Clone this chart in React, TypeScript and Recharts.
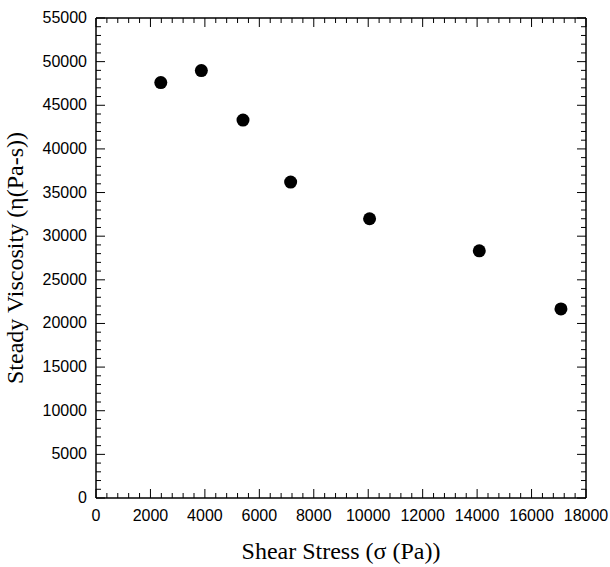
import { ScatterChart, Scatter, XAxis, YAxis } from 'recharts';

// shear stress (Pa) and steady viscosity (Pa-s)
const stress = [2380, 3870, 5400, 7150, 10050, 14080, 17080];
const viscosity = [47600, 48980, 43300, 36200, 32000, 28320, 21670];

const xTicks = Array.from({ length: 46 }, (_, i) => i * 400);
const yTicks = Array.from({ length: 56 }, (_, i) => i * 1000);
const xLabelStep = 2000;
const yLabelStep = 5000;

const data = stress.map((s, i) => ({ stress: s, viscosity: viscosity[i] }));

const tickFont = { fontFamily: '"Liberation Sans", Arial, sans-serif', fontSize: 16, fill: '#000' };
const titleFont = { fontFamily: '"Liberation Serif", "Times New Roman", serif', fontSize: 24, fill: '#000' };

const MAJOR = 9;
const MINOR = 5;

const BottomTick = (props: any) => {
  const { x, y, payload } = props;
  const major = payload.value % xLabelStep === 0;
  return (
    <g>
      <line x1={x} x2={x} y1={y} y2={y - (major ? MAJOR : MINOR)} stroke="#000" strokeWidth={1} />
      {major && (
        <text x={x} y={y + 23} textAnchor="middle" style={tickFont}>
          {payload.value}
        </text>
      )}
    </g>
  );
};

const TopTick = (props: any) => {
  const { x, y, payload } = props;
  const major = payload.value % xLabelStep === 0;
  return <line x1={x} x2={x} y1={y} y2={y + (major ? MAJOR : MINOR)} stroke="#000" strokeWidth={1} />;
};

const LeftTick = (props: any) => {
  const { x, y, payload } = props;
  const major = payload.value % yLabelStep === 0;
  return (
    <g>
      <line x1={x} x2={x + (major ? MAJOR : MINOR)} y1={y} y2={y} stroke="#000" strokeWidth={1} />
      {major && (
        <text x={x - 9} y={y + 5} textAnchor="end" style={tickFont}>
          {payload.value}
        </text>
      )}
    </g>
  );
};

const RightTick = (props: any) => {
  const { x, y, payload } = props;
  const major = payload.value % yLabelStep === 0;
  return <line x1={x} x2={x - (major ? MAJOR : MINOR)} y1={y} y2={y} stroke="#000" strokeWidth={1} />;
};

const Dot = (props: any) => <circle cx={props.cx} cy={props.cy} r={6.5} fill="#000" />;
const NoDot = () => <g />;

export default function App() {
  return (
    <div style={{ position: 'absolute', left: 0, top: 0, background: '#fff' }}>
      <ScatterChart width={610} height={567} margin={{ top: 17, right: 23, bottom: 0, left: 0 }}>
        <XAxis
          xAxisId="b"
          dataKey="stress"
          type="number"
          domain={[0, 18000]}
          ticks={xTicks}
          interval={0}
          tickSize={0}
          tickMargin={0}
          tick={<BottomTick />}
          height={69}
          axisLine={{ stroke: '#000', strokeWidth: 1.5 }}
          label={{ value: 'Shear Stress (σ (Pa))', position: 'insideBottom', offset: 8, style: titleFont }}
        />
        <XAxis
          xAxisId="t"
          orientation="top"
          dataKey="stress"
          type="number"
          domain={[0, 18000]}
          ticks={xTicks}
          interval={0}
          tickSize={0}
          tickMargin={0}
          tick={<TopTick />}
          height={1}
          axisLine={{ stroke: '#000', strokeWidth: 1.5 }}
        />
        <YAxis
          yAxisId="l"
          dataKey="viscosity"
          type="number"
          domain={[0, 55000]}
          ticks={yTicks}
          interval={0}
          tickSize={0}
          tickMargin={0}
          tick={<LeftTick />}
          width={96}
          axisLine={{ stroke: '#000', strokeWidth: 1.5 }}
          label={{
            value: 'Steady Viscosity (η(Pa-s))',
            angle: -90,
            position: 'insideLeft',
            offset: 14,
            style: { ...titleFont, textAnchor: 'middle' },
          }}
        />
        <YAxis
          yAxisId="r"
          orientation="right"
          dataKey="viscosity"
          type="number"
          domain={[0, 55000]}
          ticks={yTicks}
          interval={0}
          tickSize={0}
          tickMargin={0}
          tick={<RightTick />}
          width={1}
          axisLine={{ stroke: '#000', strokeWidth: 1.5 }}
        />
        <Scatter data={data} xAxisId="t" yAxisId="r" shape={<NoDot />} isAnimationActive={false} />
        <Scatter data={data} xAxisId="b" yAxisId="l" shape={<Dot />} isAnimationActive={false} />
      </ScatterChart>
    </div>
  );
}
